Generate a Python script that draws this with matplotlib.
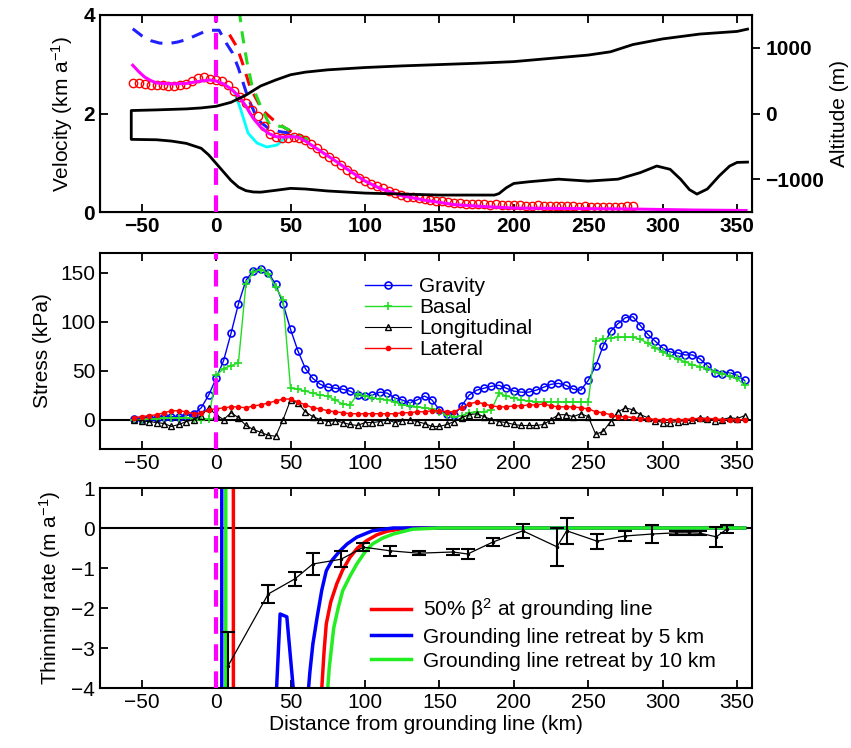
import numpy as np
import matplotlib
matplotlib.use("Agg")
import matplotlib.pyplot as plt

plt.rcParams["font.family"] = ["Liberation Sans", "DejaVu Sans"]
plt.rcParams["mathtext.fontset"] = "custom"
plt.rcParams["mathtext.rm"] = "Liberation Sans"
plt.rcParams["mathtext.it"] = "Liberation Sans:italic"
plt.rcParams["mathtext.bf"] = "Liberation Sans:bold"
plt.rcParams["font.size"] = 15

# ---- top panel: velocity (km/a) ----
obs_x = np.arange(-56, 281, 4)
obs_v = [2.62, 2.62, 2.60, 2.58, 2.57, 2.57, 2.56, 2.56, 2.57, 2.60, 2.66, 2.72, 2.74, 2.70,
         2.68, 2.66, 2.58, 2.46, 2.34, 2.22, 2.08, 1.95, 1.75, 1.58, 1.52, 1.50, 1.50, 1.52,
         1.50, 1.46, 1.38, 1.30, 1.20, 1.12, 1.04, 0.96, 0.86, 0.78, 0.70, 0.62, 0.56, 0.52,
         0.48, 0.42, 0.38, 0.34, 0.31, 0.30, 0.28, 0.26, 0.24, 0.22, 0.22, 0.20, 0.19, 0.18,
         0.17, 0.17, 0.16, 0.16, 0.15, 0.16, 0.15, 0.15, 0.14, 0.14, 0.13, 0.13, 0.14, 0.13,
         0.13, 0.12, 0.12, 0.12, 0.12, 0.11, 0.12, 0.11, 0.11, 0.10, 0.10, 0.10, 0.11, 0.12, 0.12]

model_x = [-56, -52, -48, -44, -40, -30, -20, -10, -4, 0, 5, 10, 15, 20, 25, 30, 35, 40, 45,
           50, 55, 60, 65, 70, 80, 90, 100, 110, 125, 140, 160, 180, 200, 240, 280, 320, 356]
model_v = [2.98, 2.85, 2.74, 2.67, 2.62, 2.60, 2.61, 2.66, 2.68, 2.66, 2.60, 2.50, 2.36, 2.15,
           1.90, 1.72, 1.60, 1.53, 1.52, 1.53, 1.52, 1.44, 1.34, 1.24, 1.04, 0.83, 0.63, 0.48,
           0.33, 0.24, 0.15, 0.11, 0.08, 0.07, 0.06, 0.04, 0.03]

cyan_x = [12, 16, 21.5, 27.5, 34, 41, 46, 52]
cyan_v = [2.45, 2.13, 1.60, 1.40, 1.32, 1.36, 1.50, 1.55]

blue_dash_x = [-56, -50, -44, -38, -32, -26, -20, -14, -8, -4, 2, 7, 11, 15, 21.5, 28, 35, 43, 50, 55]
blue_dash_v = [3.72, 3.58, 3.48, 3.43, 3.42, 3.45, 3.50, 3.58, 3.66, 3.69, 3.69, 3.42, 3.23, 2.92,
               2.31, 1.87, 1.70, 1.63, 1.60, 1.55]
red_dash_x = [9, 14, 18, 23, 31, 38, 45, 52]
red_dash_v = [3.60, 3.35, 3.00, 2.52, 2.07, 1.88, 1.73, 1.60]
green_dash_x = [15.5, 17.5, 20.7, 24, 31, 36, 45, 52, 60, 65]
green_dash_v = [4.10, 3.63, 3.05, 2.58, 2.07, 1.77, 1.73, 1.62, 1.50, 1.40]

# ice geometry (m)
surf_x = [-57, -40, -20, -10, 0, 10, 20, 25, 30, 40, 50, 60, 75, 100, 125, 150, 175, 200,
          225, 250, 265, 280, 300, 325, 350, 357]
surf_z = [45, 55, 70, 85, 110, 170, 280, 350, 420, 510, 590, 630, 665, 700, 725, 745, 765, 790,
          840, 890, 940, 1050, 1136, 1210, 1250, 1285]
base_x = [-57, -40, -30, -20, -10, -5, 0, 5, 10, 15, 20, 25, 30, 40, 50, 60, 75, 100, 150, 187,
          190, 195, 200, 210, 230, 250, 270, 285, 296, 305, 312, 318, 323, 330, 338, 345, 350, 357]
base_z = [-394, -400, -420, -455, -530, -630, -760, -890, -1020, -1120, -1175, -1195, -1198,
          -1170, -1140, -1150, -1180, -1212, -1242, -1242, -1220, -1130, -1065, -1040, -1000,
          -1030, -1000, -900, -800, -850, -1000, -1160, -1227, -1150, -950, -800, -745, -740]

# ---- middle panel: stresses (kPa) ----
stress_x = np.arange(-55, 356, 5)
gravity = [1, 1, 2, 2, 3, 3, 3, 4, 6, 12, 25, 42, 60, 88, 118, 142, 152, 154, 150, 138, 118, 92,
           70, 52, 42, 36, 33, 32, 31, 29, 25, 24, 25, 28, 27, 22, 20, 17, 20, 24, 20, 10, 6, 5,
           14, 25, 30, 32, 34, 35, 32, 29, 28, 28, 30, 33, 36, 37, 35, 31, 30, 40, 55, 75, 90,
           98, 104, 105, 96, 87, 80, 73, 69, 68, 66, 66, 62, 55, 48, 47, 48, 45, 40]
basal = [0, 0, 1, 1, 2, 2, 2, 2, 1, 0, 1, 45, 52, 55, 58, 138, 151, 153, 149, 135, 122, 32, 31,
         29, 27, 25, 24, 20, 16, 15, 26, 24, 22, 21, 20, 18, 15, 14, 13, 12, 11, 8, 5, 3, 4, 7,
         8, 8, 10, 27, 24, 22, 20, 19, 18, 18, 18, 18, 18, 18, 18, 18, 80, 82, 83, 84, 84, 84,
         82, 78, 73, 69, 65, 62, 59, 56, 54, 52, 49, 47, 44, 42, 35]
longitudinal = [0, -1, -2, -3, -4, -7, -5, -2, 0, 4, 12, 5, 0, 7, 2, -6, -10, -13, -16, -17, 0,
                20, 17, 8, 3, 0, -2, -1, -3, -5, -6, -3, -3, -2, 0, -3, -1, 0, -2, -4, -7, -7,
                -5, -2, 2, 5, 6, 3, 0, -2, -3, -5, -6, -6, -6, -5, 0, 5, 5, 3, 6, 3, -15, -12,
                -2, 8, 12, 10, 5, 2, -1, -3, -3, -2, -1, 0, 2, 1, -1, 0, 2, 1, 4]
lateral = [2, 3, 4, 5, 7, 9, 9, 8, 6, 7, 10, 11, 12, 13, 13, 12, 14, 15, 17, 19, 21, 21, 18, 15,
           12, 11, 9, 8, 7, 6, 6, 6, 6, 6, 6, 6, 7, 7, 8, 8, 9, 9, 8, 8, 12, 16, 18, 16, 14, 13,
           13, 14, 14, 15, 15, 16, 14, 13, 13, 13, 12, 11, 8, 7, 5, 3, 3, 2, 1, 1, 0, 0, 0, 0,
           0, 1, 1, 1, 1, 0, 0, 0, 0]

# ---- bottom panel: thinning rate (m/a) ----
thin_x = [8, 35, 53, 65, 84, 99, 117, 136, 159, 169, 186, 206, 229, 235.5, 256, 274.5, 293, 309,
          318, 325, 336, 343]
thin_rate = [-3.45, -1.65, -1.27, -0.90, -0.78, -0.48, -0.57, -0.63, -0.60, -0.65, -0.35, -0.07,
             -0.47, -0.07, -0.33, -0.20, -0.15, -0.12, -0.12, -0.13, -0.22, -0.03]
thin_err = [0.85, 0.23, 0.17, 0.28, 0.20, 0.10, 0.12, 0.05, 0.07, 0.12, 0.10, 0.18, 0.47, 0.33,
            0.19, 0.12, 0.22, 0.05, 0.05, 0.05, 0.25, 0.10]

beta_x = [11.6, 11.6, 70, 71, 72.5, 74, 77, 81, 85, 90, 95, 101, 108, 115, 128, 355]
beta_r = [5, -40, -4.5, -4.0, -3.1, -2.4, -1.85, -1.4, -1.05, -0.73, -0.5, -0.32, -0.17, -0.08, 0, 0]
gl5_x = [3.8, 3.8, 40, 43, 47.5, 53, 61, 63, 65, 68, 71, 74, 78, 83, 88, 94.5, 105, 119, 140, 355]
gl5_r = [5, -40, -4.5, -2.15, -2.22, -4.5, -4.5, -3.6, -2.9, -2.2, -1.55, -1.07, -0.8, -0.58,
         -0.4, -0.23, -0.07, 0, 0, 0]
gl10_x = [6.5, 6.5, 74, 76, 79, 82, 85, 90, 94.5, 100, 105, 112, 119, 132, 150, 355]
gl10_r = [5, -40, -4.5, -3.5, -2.5, -2.0, -1.57, -1.2, -0.9, -0.6, -0.4, -0.25, -0.15, -0.03, 0, 0]

xticks = [-50, 0, 50, 100, 150, 200, 250, 300, 350]
W, H = 851, 748


def box(l, t, r, b):
    return [l / W, 1 - b / H, (r - l) / W, (b - t) / H]


def style(ax, bold=False):
    ax.set_xlim(-78, 360)
    ax.set_xticks(xticks)
    ax.tick_params(direction="in", top=True, length=6, width=1.3, labelsize=15)
    for s in ax.spines.values():
        s.set_linewidth(1.5)
    if bold:
        for lab in ax.get_xticklabels() + ax.get_yticklabels():
            lab.set_fontweight("bold")
    ax.axvline(0, color="#ff00ff", ls=(0, (4, 2.5)), lw=3, zorder=5)


fig = plt.figure(figsize=(W / 100, H / 100), dpi=100)

# top panel
ax1 = fig.add_axes(box(100, 15, 752, 212))
ax1b = ax1.twinx()
ax1.plot(blue_dash_x, blue_dash_v, color="#2020ff", ls=(0, (4, 3)), lw=2.2)
ax1.plot(red_dash_x, red_dash_v, color="red", ls=(0, (4, 3)), lw=2.2)
ax1.plot(green_dash_x, green_dash_v, color="#22dd22", ls=(0, (4, 3)), lw=2.2)
ax1.plot(cyan_x, cyan_v, color="cyan", lw=2)
ax1.plot(obs_x, obs_v, "o", color="red", mfc="none", ms=6, mew=1)
ax1.plot(model_x, model_v, color="#ff00ff", lw=2.2)
ax1.set_ylim(0, 4)
ax1.set_yticks([0, 2, 4])
ax1.set_ylabel("Velocity (km a$^{-1}$)", labelpad=6)
style(ax1, bold=True)

outline_x = surf_x[::-1] + base_x
outline_z = surf_z[::-1] + base_z
ax1b.plot(outline_x, outline_z, color="black", lw=2)
ax1b.set_ylim(-1500, 1500)
ax1b.set_yticks([-1000, 0, 1000])
ax1b.tick_params(direction="out", length=6, width=1.3, labelsize=15)
for lab in ax1b.get_yticklabels():
    lab.set_fontweight("bold")
ax1b.set_ylabel("Altitude (m)", labelpad=4)

# middle panel
ax2 = fig.add_axes(box(100, 253, 752, 449))
ax2.axhline(0, color="black", lw=1.5)
ax2.plot(stress_x, gravity, "-o", color="blue", mfc="none", ms=5, mew=1.2, lw=1, label="Gravity")
ax2.plot(stress_x, basal, "-+", color="#22dd22", ms=6, mew=1.2, lw=1, label="Basal")
ax2.plot(stress_x, longitudinal, "-^", color="black", mfc="none", ms=4.5, mew=1, lw=0.8,
         label="Longitudinal")
ax2.plot(stress_x, lateral, color="red", marker=".", ls="-", ms=6, lw=1, label="Lateral")
ax2.set_ylim(-30, 170)
ax2.set_yticks([0, 50, 100, 150])
ax2.set_ylabel("Stress (kPa)", labelpad=6)
style(ax2)
ax2.legend(loc="upper left", bbox_to_anchor=(0.39, 0.93), frameon=False, handlelength=2.2,
           labelspacing=0.1, borderpad=0, handletextpad=0.4, fontsize=15)

# bottom panel
ax3 = fig.add_axes(box(100, 488, 752, 688))
ax3.axhline(0, color="black", lw=1.5)
ax3.plot(beta_x, beta_r, color="red", lw=2.5, label="50% β$^2$ at grounding line")
ax3.plot(gl5_x, gl5_r, color="blue", lw=2.5, label="Grounding line retreat by 5 km")
ax3.plot(gl10_x, gl10_r, color="#22ee22", lw=2.5, label="Grounding line retreat by 10 km")
ax3.errorbar(thin_x, thin_rate, yerr=thin_err, color="black", ecolor="black", lw=0.9,
             elinewidth=1.5, capsize=5, capthick=1.5, marker=".", ms=3, zorder=6)
ax3.set_ylim(-4, 1)
ax3.set_yticks([-4, -3, -2, -1, 0, 1])
ax3.set_ylabel("Thinning rate (m a$^{-1}$)", labelpad=6)
ax3.set_xlabel("Distance from grounding line (km)", labelpad=2)
style(ax3)
ax3.legend(loc="upper left", bbox_to_anchor=(0.4, 0.51), frameon=False, handlelength=1.9,
           labelspacing=0.25, borderpad=0, handletextpad=0.6, fontsize=15)

fig.savefig("out.png", dpi=100)
